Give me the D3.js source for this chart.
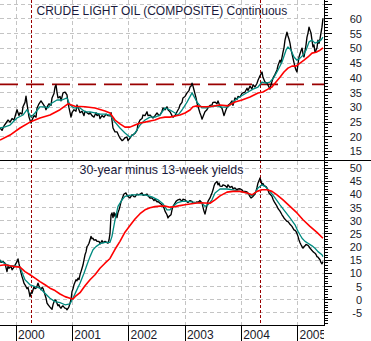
<!DOCTYPE html>
<html><head><meta charset="utf-8">
<script src="https://cdn.jsdelivr.net/npm/d3@7/dist/d3.min.js"></script>
<style>html,body{margin:0;padding:0;background:#fff;} svg{display:block;font-family:"Liberation Sans",Arial,sans-serif;}</style>
</head><body><svg id="c" width="371" height="341"></svg>
<script>
// ---------- DATA (time in decimal years, value) ----------
const years = [2000, 2001, 2002, 2003, 2004, 2005];
const topTickLabels = [15, 20, 25, 30, 35, 40, 45, 50, 55, 60];
const botTickLabels = [-5, 0, 5, 10, 15, 20, 25, 30, 35, 40, 45, 50];
const topTitle = "CRUDE LIGHT OIL (COMPOSITE) Continuous";
const botTitle = "30-year minus 13-week yields";
const markerDates = [2000.27, 2004.34];
const resistanceLevel = 37.6;

const oilClose = [[1999.721,22.8],[1999.757,22.0],[1999.792,23.5],[1999.828,24.5],[1999.863,25.5],[1999.899,24.8],[1999.935,26],[1999.970,25.5],[2000.023,29],[2000.058,27],[2000.076,28],[2000.112,27.5],[2000.129,30],[2000.165,31.5],[2000.183,33.6],[2000.201,31],[2000.236,26.5],[2000.272,24.5],[2000.290,25.5],[2000.325,27],[2000.361,26.5],[2000.378,29.5],[2000.414,31],[2000.449,32],[2000.485,31],[2000.520,30],[2000.538,29],[2000.573,30.5],[2000.591,31],[2000.627,30.5],[2000.645,33],[2000.680,34.5],[2000.698,36.7],[2000.716,37.4],[2000.733,35],[2000.751,33],[2000.787,33.5],[2000.805,32],[2000.840,34.7],[2000.876,35],[2000.911,34],[2000.929,31.5],[2000.947,29.6],[2000.982,26.5],[2001.000,28],[2001.035,29],[2001.071,28.5],[2001.088,30.6],[2001.124,29],[2001.142,28],[2001.178,28.5],[2001.213,27],[2001.231,28.5],[2001.266,28],[2001.302,27.5],[2001.320,28],[2001.355,27],[2001.391,26.5],[2001.426,28],[2001.444,27],[2001.479,27.5],[2001.497,26],[2001.533,27],[2001.568,26.5],[2001.604,27.5],[2001.639,27],[2001.675,26.9],[2001.693,28],[2001.728,22.8],[2001.764,21.5],[2001.799,21.5],[2001.835,20],[2001.852,19.4],[2001.888,18.5],[2001.906,18.7],[2001.941,19.5],[2001.977,19.7],[2001.994,18.5],[2002.030,19.4],[2002.066,20.5],[2002.083,20.4],[2002.119,21],[2002.154,22],[2002.172,24],[2002.208,25.5],[2002.244,26],[2002.261,27.2],[2002.297,27],[2002.332,28.3],[2002.350,27],[2002.385,27.2],[2002.421,26.5],[2002.438,26.2],[2002.474,27],[2002.510,27.9],[2002.545,27],[2002.563,27.2],[2002.599,28.5],[2002.616,29.6],[2002.652,29],[2002.687,30],[2002.705,29],[2002.741,28.3],[2002.776,27],[2002.794,26.5],[2002.830,27],[2002.865,28.3],[2002.900,29.5],[2002.918,30.6],[2002.954,31.5],[2002.971,33],[2003.007,33.5],[2003.043,34.7],[2003.078,35.5],[2003.096,36.7],[2003.114,37],[2003.132,38],[2003.149,37],[2003.167,35.7],[2003.203,33],[2003.220,31.3],[2003.256,29],[2003.273,27.9],[2003.291,27],[2003.309,25.8],[2003.344,27.5],[2003.362,28.3],[2003.397,29],[2003.415,29.6],[2003.451,30.5],[2003.486,30.6],[2003.504,31.5],[2003.540,31.6],[2003.575,31],[2003.593,32],[2003.629,30.2],[2003.664,29.5],[2003.700,27],[2003.735,29],[2003.771,30.5],[2003.806,31],[2003.842,32],[2003.859,30.5],[2003.895,33],[2003.930,32.5],[2003.948,33.5],[2003.984,33.3],[2004.019,34.5],[2004.037,34.7],[2004.073,35],[2004.108,36.3],[2004.126,35.5],[2004.162,37],[2004.197,36],[2004.215,37.5],[2004.250,36.7],[2004.286,38],[2004.304,39],[2004.339,40.5],[2004.375,41.8],[2004.392,40],[2004.428,38.4],[2004.463,38],[2004.481,37.4],[2004.517,36],[2004.535,37.5],[2004.570,39.7],[2004.606,41],[2004.641,42.5],[2004.659,44],[2004.694,45.8],[2004.712,45],[2004.748,48.5],[2004.765,50],[2004.783,52.6],[2004.801,54],[2004.818,55.3],[2004.836,54],[2004.854,53],[2004.872,51.6],[2004.890,49.5],[2004.925,46.5],[2004.943,45],[2004.961,43.5],[2004.978,42.5],[2004.996,41.8],[2005.014,44.5],[2005.032,46.9],[2005.050,48],[2005.068,49],[2005.086,49.9],[2005.103,48],[2005.121,46.9],[2005.139,49],[2005.157,51],[2005.174,53.6],[2005.192,55],[2005.210,57],[2005.227,56],[2005.245,55],[2005.263,52.5],[2005.280,50.3],[2005.298,51],[2005.316,48.5],[2005.334,49.2],[2005.351,50],[2005.369,52.6],[2005.387,51.5],[2005.405,53],[2005.422,55],[2005.440,57],[2005.458,60]];

const oilShortAvg = [[1999.721,22.8],[1999.810,23.2],[1999.899,23.8],[2000.023,26.2],[2000.129,27.2],[2000.201,29],[2000.272,26.5],[2000.343,27.9],[2000.431,30],[2000.520,30],[2000.573,29.6],[2000.645,31.3],[2000.733,32.3],[2000.822,32.3],[2000.911,33],[2000.964,30.6],[2001.035,29.6],[2001.142,29.6],[2001.231,28.3],[2001.320,28.3],[2001.409,27.9],[2001.497,27.5],[2001.586,27.5],[2001.675,27.2],[2001.764,24.8],[2001.852,22.8],[2001.941,21.1],[2002.030,19.7],[2002.119,21.1],[2002.208,23.8],[2002.297,25.5],[2002.385,26.5],[2002.474,26.5],[2002.563,27.2],[2002.652,29.6],[2002.741,28.9],[2002.830,27.9],[2002.883,27.2],[2002.954,28.9],[2003.043,31.6],[2003.132,34.7],[2003.220,31.6],[2003.309,29.6],[2003.397,29.6],[2003.486,30.2],[2003.575,30.3],[2003.664,29.9],[2003.771,29.9],[2003.859,31.6],[2003.948,33],[2004.037,34],[2004.126,35],[2004.215,36],[2004.304,36.7],[2004.375,38.4],[2004.446,38],[2004.517,38.4],[2004.588,40],[2004.659,42.5],[2004.730,45.2],[2004.801,49.2],[2004.836,50.3],[2004.890,49.2],[2004.943,46.9],[2004.996,45.8],[2005.050,46.5],[2005.103,47.5],[2005.157,49.2],[2005.210,52],[2005.263,52.6],[2005.316,51.6],[2005.369,52],[2005.422,52.6],[2005.458,53.6]];

const oilLongAvg = [[1999.721,18.7],[1999.899,20.4],[2000.076,22.8],[2000.254,24.8],[2000.431,26.2],[2000.609,27.2],[2000.787,29],[2000.929,31],[2001.053,30.2],[2001.231,30],[2001.409,29.6],[2001.586,28.6],[2001.675,27.9],[2001.764,25.5],[2001.852,24.2],[2001.941,23.1],[2002.030,23.1],[2002.119,23.8],[2002.208,24.5],[2002.297,24.8],[2002.385,25.2],[2002.474,25.5],[2002.563,26.2],[2002.652,26.5],[2002.741,26.5],[2002.830,26.9],[2002.918,27.2],[2003.007,27.9],[2003.096,28.9],[2003.149,30],[2003.220,30.3],[2003.309,30],[2003.397,30],[2003.486,30.2],[2003.629,30.6],[2003.771,30.3],[2003.895,31.6],[2004.019,32.3],[2004.162,33.3],[2004.304,34.7],[2004.392,35],[2004.481,36],[2004.552,36.7],[2004.623,38.4],[2004.694,40],[2004.765,41.8],[2004.836,43.1],[2004.907,43.8],[2004.978,43.8],[2005.050,44.8],[2005.121,45.8],[2005.192,46.9],[2005.263,48.2],[2005.334,48.5],[2005.405,49.2],[2005.458,50]];

const spread = [[1999.721,15],[1999.739,14],[1999.774,14.3],[1999.810,13.7],[1999.828,12],[1999.845,10.5],[1999.863,12.5],[1999.881,11.8],[1999.916,12.5],[1999.935,11.2],[1999.970,12.2],[1999.988,13],[2000.023,14.3],[2000.041,15.3],[2000.058,13.5],[2000.076,11.8],[2000.094,10],[2000.112,8.6],[2000.129,7.5],[2000.147,6.1],[2000.165,5.5],[2000.183,4.8],[2000.201,4],[2000.218,4.5],[2000.236,2.9],[2000.254,1.0],[2000.272,2.5],[2000.290,2.3],[2000.307,3.5],[2000.325,4.8],[2000.343,4],[2000.361,4.2],[2000.378,5],[2000.396,6.1],[2000.414,5],[2000.449,3.6],[2000.467,4.5],[2000.485,4.2],[2000.502,3],[2000.520,1.7],[2000.538,0.5],[2000.556,-1.5],[2000.573,-2],[2000.591,-2.5],[2000.609,-3],[2000.627,-3.4],[2000.645,-3.8],[2000.662,-2.1],[2000.680,-1],[2000.698,-0.2],[2000.716,-0.5],[2000.733,-1.5],[2000.751,-2.5],[2000.769,-2.1],[2000.787,-3],[2000.805,-3.4],[2000.822,-2.8],[2000.840,-2.5],[2000.858,-3],[2000.876,-3.4],[2000.893,-3.5],[2000.911,-4],[2000.929,-3.5],[2000.947,-2.8],[2000.964,-1.5],[2000.982,-0.2],[2001.000,2.9],[2001.018,4],[2001.035,5.5],[2001.053,6.5],[2001.071,7.4],[2001.088,7],[2001.106,8],[2001.124,7.5],[2001.142,9.3],[2001.160,10.5],[2001.178,11.8],[2001.195,13],[2001.213,15],[2001.231,16.9],[2001.249,18],[2001.266,20],[2001.284,20.5],[2001.302,21.3],[2001.320,22.5],[2001.337,23.9],[2001.355,23],[2001.373,23.2],[2001.391,22.5],[2001.426,22.6],[2001.444,22],[2001.479,22],[2001.497,21],[2001.533,22.3],[2001.550,21.5],[2001.586,22],[2001.622,21.5],[2001.639,21.3],[2001.657,22.5],[2001.675,25],[2001.693,32],[2001.710,32.8],[2001.728,31],[2001.746,33],[2001.764,31.5],[2001.781,32.5],[2001.799,31],[2001.817,33],[2001.835,34],[2001.852,35.3],[2001.870,37],[2001.888,38],[2001.906,39.1],[2001.923,40],[2001.959,40.4],[2001.977,39.5],[2001.994,39.1],[2002.030,38.5],[2002.066,39.7],[2002.101,39],[2002.119,38.9],[2002.154,40],[2002.172,39.7],[2002.208,40],[2002.244,40.4],[2002.261,39.5],[2002.297,39.7],[2002.332,40],[2002.350,39.3],[2002.385,38.5],[2002.421,38.5],[2002.456,37.5],[2002.474,38],[2002.510,37],[2002.527,37.2],[2002.563,36.5],[2002.599,35.9],[2002.634,34.7],[2002.652,33.5],[2002.687,32.1],[2002.705,30.9],[2002.723,31.5],[2002.758,32.1],[2002.776,34],[2002.794,35.3],[2002.830,36.5],[2002.847,37.2],[2002.883,37.8],[2002.918,38],[2002.954,37.2],[2002.971,38],[2003.007,37.8],[2003.043,37],[2003.060,36.8],[2003.096,37.5],[2003.132,37.2],[2003.149,36.5],[2003.185,36.6],[2003.220,37],[2003.238,36.8],[2003.273,37.5],[2003.309,36.6],[2003.326,35],[2003.344,33.5],[2003.362,32.4],[2003.380,34],[2003.415,37.2],[2003.451,38.5],[2003.486,40.4],[2003.504,41.5],[2003.522,43],[2003.540,44],[2003.575,44.8],[2003.593,43.5],[2003.611,44.2],[2003.629,43],[2003.664,42.9],[2003.682,43.5],[2003.717,43.2],[2003.753,42.5],[2003.771,43.5],[2003.806,42.5],[2003.842,42.9],[2003.859,42],[2003.895,42.3],[2003.930,41.5],[2003.948,41.9],[2003.984,42],[2004.019,41.6],[2004.037,41],[2004.073,41],[2004.108,40.8],[2004.126,40.4],[2004.162,39],[2004.179,38.5],[2004.197,38.8],[2004.215,39.1],[2004.250,40],[2004.268,41],[2004.286,42.5],[2004.304,44.2],[2004.321,45],[2004.339,46.1],[2004.357,45],[2004.375,43.5],[2004.392,44],[2004.410,43.2],[2004.446,42.8],[2004.463,42.3],[2004.481,41.5],[2004.499,40.4],[2004.517,40],[2004.552,39.1],[2004.570,38],[2004.588,37.2],[2004.623,36],[2004.641,35.3],[2004.659,34.5],[2004.677,34],[2004.694,33.5],[2004.730,32.1],[2004.748,31.5],[2004.765,30.9],[2004.801,30],[2004.818,29.6],[2004.836,29.5],[2004.854,29],[2004.872,28.5],[2004.907,27.7],[2004.925,27],[2004.943,26.4],[2004.961,26.2],[2004.978,25.8],[2004.996,25],[2005.014,23.9],[2005.032,22.5],[2005.050,21.5],[2005.068,20.7],[2005.086,20],[2005.103,19.4],[2005.121,20],[2005.139,20.3],[2005.157,20.8],[2005.174,20.7],[2005.192,20.5],[2005.210,20],[2005.227,19.4],[2005.245,19],[2005.263,18.5],[2005.280,18.1],[2005.298,17.8],[2005.316,17.5],[2005.334,17],[2005.351,16.2],[2005.369,16],[2005.387,15.5],[2005.405,15],[2005.422,14],[2005.440,13.5],[2005.458,14.3]];

const spreadShortAvg = [[1999.721,14.7],[1999.810,13.5],[1999.899,12.7],[1999.988,12.7],[2000.076,12.2],[2000.165,7.4],[2000.254,5.5],[2000.343,4.8],[2000.431,4.2],[2000.520,2.3],[2000.609,0.4],[2000.698,-0.9],[2000.787,-1.3],[2000.876,-2.1],[2000.964,-1.8],[2001.018,0.4],[2001.071,2.9],[2001.142,6.1],[2001.213,9.9],[2001.266,13.1],[2001.320,16.2],[2001.373,18.8],[2001.426,20],[2001.497,21.1],[2001.586,21.6],[2001.675,21.6],[2001.710,23.9],[2001.764,30.2],[2001.817,35.3],[2001.888,37.8],[2001.941,39.1],[2002.066,39.7],[2002.172,39.7],[2002.297,39.7],[2002.421,38.9],[2002.527,37.8],[2002.616,36.3],[2002.687,34],[2002.741,34],[2002.794,35.3],[2002.865,36.6],[2002.954,37.2],[2003.060,37.2],[2003.185,36.8],[2003.309,36.6],[2003.362,35.3],[2003.415,35.9],[2003.486,37.8],[2003.540,40.4],[2003.629,41.9],[2003.753,41.9],[2003.859,41.6],[2003.984,41],[2004.108,40.4],[2004.197,39.3],[2004.250,40.4],[2004.304,42.3],[2004.375,43.5],[2004.428,42.9],[2004.517,41],[2004.606,38.5],[2004.694,35.9],[2004.783,33.4],[2004.872,30.9],[2004.961,28.3],[2005.014,25.8],[2005.086,23.2],[2005.139,22],[2005.192,21.3],[2005.263,20.3],[2005.316,19.4],[2005.369,18.1],[2005.440,16.9],[2005.458,16.2]];

const spreadLongAvg = [[1999.721,12.8],[1999.810,13.1],[1999.899,12.7],[1999.988,12.4],[2000.076,12.2],[2000.165,10.5],[2000.254,9.3],[2000.343,8],[2000.431,6.7],[2000.520,5.5],[2000.609,4.2],[2000.698,3.3],[2000.787,2],[2000.876,1],[2000.964,0.4],[2001.018,0.1],[2001.071,1.3],[2001.142,2.5],[2001.231,5.1],[2001.320,7.4],[2001.409,9.3],[2001.497,11.8],[2001.586,13.7],[2001.675,15.5],[2001.764,19],[2001.852,22],[2001.941,25.5],[2002.030,28],[2002.119,30.5],[2002.208,32.5],[2002.297,34],[2002.385,34.8],[2002.474,35.2],[2002.563,35.4],[2002.652,35.4],[2002.741,35],[2002.830,35.2],[2002.918,35.6],[2003.007,35.9],[2003.096,36.2],[2003.185,36.5],[2003.273,36.7],[2003.362,36.6],[2003.451,36.5],[2003.540,37.8],[2003.629,39.3],[2003.753,40.7],[2003.859,41],[2003.984,41],[2004.108,40.4],[2004.197,39.7],[2004.286,41],[2004.375,41.6],[2004.463,41.6],[2004.552,41],[2004.641,39.7],[2004.748,37.8],[2004.872,35.3],[2004.996,32.8],[2005.103,30.2],[2005.227,27.7],[2005.351,25.4],[2005.458,23.2]];

// ---------- CHART ----------
const svg = d3.select("#c");
const PR = 324; // plot right edge
svg.append("rect").attr("width",371).attr("height",341).attr("fill","#fff");

const x = d3.scaleLinear().domain([1999.721, 2005.476]).range([0, PR]);
const yTop = d3.scaleLinear().domain([15, 65]).range([151, 3.6]);
const yBot = d3.scaleLinear().domain([-5, 50]).range([312.4, 167.7]);

const defs = svg.append("defs");
defs.append("clipPath").attr("id","clipTop").append("rect").attr("x",0).attr("y",0).attr("width",PR).attr("height",160);
defs.append("clipPath").attr("id","clipBot").append("rect").attr("x",0).attr("y",161).attr("width",PR).attr("height",164);
defs.append("clipPath").attr("id","clipXLocal").append("rect").attr("x",0).attr("y",0).attr("width",PR).attr("height",16);

const gridColor = "#c4c4c4";
const grid = svg.append("g").attr("shape-rendering","crispEdges");
[[yTop, d3.range(15, 66, 5)], [yBot, d3.range(-5, 51, 5)]].forEach(([ys, vals]) => {
  grid.selectAll(null).data(vals).enter().append("line")
    .attr("x1",0).attr("x2",PR)
    .attr("y1",d=>Math.round(ys(d))+0.5).attr("y2",d=>Math.round(ys(d))+0.5)
    .attr("stroke",gridColor).attr("stroke-dasharray","4,3");
});
grid.selectAll(null).data(years).enter().append("line")
  .attr("x1",d=>Math.round(x(d))+0.5).attr("x2",d=>Math.round(x(d))+0.5)
  .attr("y1",0).attr("y2",325)
  .attr("stroke",gridColor).attr("stroke-dasharray","4,3");

svg.append("g").selectAll("line").data(markerDates).enter().append("line")
  .attr("x1",d=>Math.round(x(d))+0.5).attr("x2",d=>Math.round(x(d))+0.5)
  .attr("y1",0).attr("y2",325)
  .attr("stroke","#9a0000").attr("stroke-width",1).attr("stroke-dasharray","3,2")
  .attr("shape-rendering","crispEdges");

svg.append("line")
  .attr("x1",0).attr("x2",PR)
  .attr("y1",yTop(resistanceLevel)).attr("y2",yTop(resistanceLevel))
  .attr("stroke","#9a0000").attr("stroke-width",1.6).attr("stroke-dasharray","18,8");

function drawSeries(clip, ys, data, color, width){
  const line = d3.line().x(d=>x(d[0])).y(d=>ys(d[1]));
  svg.append("path").attr("clip-path",`url(#${clip})`)
    .attr("d", line(data)).attr("fill","none")
    .attr("stroke",color).attr("stroke-width",width).attr("stroke-linejoin","round");
}
drawSeries("clipTop", yTop, oilClose, "#000", 1.35);
drawSeries("clipTop", yTop, oilShortAvg, "#008b80", 1.3);
drawSeries("clipTop", yTop, oilLongAvg, "#ff0000", 1.6);
drawSeries("clipBot", yBot, spread, "#000", 1.35);
drawSeries("clipBot", yBot, spreadShortAvg, "#008b80", 1.3);
drawSeries("clipBot", yBot, spreadLongAvg, "#ff0000", 1.6);

svg.append("text").attr("x",36.5).attr("y",15.3).attr("font-size",12).attr("fill","#1a1a3c").text(topTitle);
svg.append("text").attr("x",79.5).attr("y",174).attr("font-size",12.4).attr("fill","#1a1a3c").text(botTitle);

function rightAxis(ys, minorVals, labels){
  const gMinor = svg.append("g").attr("transform",`translate(${PR},0)`)
    .call(d3.axisRight(ys).tickValues(minorVals.filter(v=>v%5!==0)).tickSize(4).tickFormat(""));
  gMinor.select(".domain").remove();
  const gMajor = svg.append("g").attr("transform",`translate(${PR},0)`)
    .call(d3.axisRight(ys).tickValues(minorVals.filter(v=>v%5===0)).tickSize(8).tickFormat(d=>labels.includes(d)?d:""));
  gMajor.select(".domain").remove();
  gMajor.selectAll("text").attr("text-anchor","end").attr("x",38).attr("dy","0.36em")
    .attr("font-size",11).attr("font-family","Liberation Sans, Arial, sans-serif").attr("fill","#1a1a2a");
  [gMinor,gMajor].forEach(g=>g.selectAll("line").attr("stroke","#000").attr("shape-rendering","crispEdges"));
}
rightAxis(yTop, d3.range(12, 67), topTickLabels);
rightAxis(yBot, d3.range(-9, 53), botTickLabels);

const frame = svg.append("g").attr("stroke","#000").attr("shape-rendering","crispEdges");
frame.append("line").attr("x1",PR+0.5).attr("x2",PR+0.5).attr("y1",0).attr("y2",326);
frame.append("line").attr("x1",0).attr("x2",371).attr("y1",160.5).attr("y2",160.5);
frame.append("line").attr("x1",0).attr("x2",PR).attr("y1",325.5).attr("y2",325.5);

const xa = svg.append("g").attr("transform","translate(0,325)")
  .call(d3.axisBottom(x).tickValues(years).tickSize(16).tickFormat(d3.format("d")));
xa.select(".domain").remove();
xa.selectAll("line").attr("stroke","#000").attr("shape-rendering","crispEdges");
xa.selectAll("text").attr("text-anchor","start").attr("x",1.8).attr("y",14).attr("dy",0)
  .attr("font-size",12).attr("font-family","Liberation Sans, Arial, sans-serif").attr("fill","#1a1a2a");
xa.attr("clip-path","url(#clipXLocal)");
</script></body></html>
